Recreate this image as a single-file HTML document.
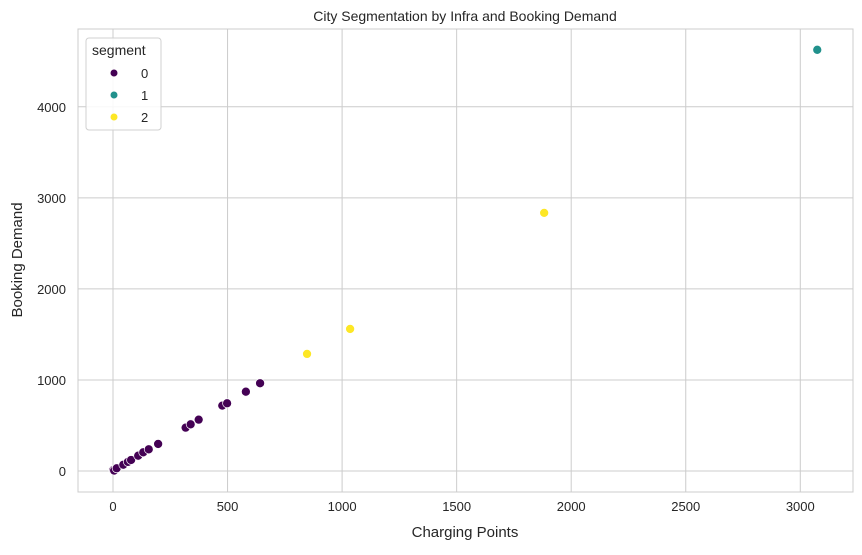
<!DOCTYPE html>
<html><head><meta charset="utf-8"><style>
body{margin:0;background:#fff;font-family:"Liberation Sans",sans-serif;}
svg text{font-family:"Liberation Sans",sans-serif;fill:#262626;}
</style></head><body>
<svg id="chart" width="862" height="550">
<rect x="0" y="0" width="862" height="550" fill="#fff"/>
<text x="465" y="21" text-anchor="middle" font-size="14">City Segmentation by Infra and Booking Demand</text>
<g id="grid"></g>
<rect x="78" y="29" width="775" height="463" fill="none" stroke="#cccccc" stroke-width="1"/>
<g id="ticks"></g>
<g id="points"></g>
<text x="465" y="537" text-anchor="middle" font-size="15">Charging Points</text>
<text transform="translate(22,260) rotate(-90)" text-anchor="middle" font-size="15">Booking Demand</text>
<g>
<rect x="86" y="38" width="75" height="92" rx="3" fill="#fff" fill-opacity="0.85" stroke="#d0d0d0"/>
<text x="92" y="55" font-size="14">segment</text>
<g><circle cx="114" cy="73" r="3.5" fill="#440154"/><text x="141" y="78" font-size="13">0</text></g>
<g><circle cx="114" cy="95" r="3.5" fill="#21918c"/><text x="141" y="100" font-size="13">1</text></g>
<g><circle cx="114" cy="117" r="3.5" fill="#fde725"/><text x="141" y="122" font-size="13">2</text></g>
</g>
</svg>
<script>
const xVals=[1,5,16,45,65,79,110,132,156,197,317,339,374,477,498,580,642,847,1035,1882,3074];
const yVals=[11,5,30,69,100,121,168,205,238,297,476,513,564,718,744,871,964,1286,1560,2835,4626];
const segments=[0,0,0,0,0,0,0,0,0,0,0,0,0,0,0,0,0,2,2,2,1];
const xTicks=[0,500,1000,1500,2000,2500,3000];
const yTicks=[0,1000,2000,3000,4000];
const colors=["#440154","#21918c","#fde725"];
const NS="http://www.w3.org/2000/svg";
const xs=v=>113+v*0.2291;
const ys=v=>471-v*0.09105;
const grid=document.getElementById('grid'),ticks=document.getElementById('ticks'),pts=document.getElementById('points');
function mk(tag,attrs,parent){const e=document.createElementNS(NS,tag);for(const k in attrs)e.setAttribute(k,attrs[k]);parent.appendChild(e);return e;}
xTicks.forEach(t=>{
  const l=mk('line',{x1:xs(t),x2:xs(t),y1:29,y2:492,stroke:'#cccccc','stroke-width':1},grid);
  
  
  const tx=mk('text',{x:xs(t),y:511,'text-anchor':'middle','font-size':13},ticks);
  tx.textContent=t;
  
  
});
yTicks.forEach(t=>{
  const l=mk('line',{x1:78,x2:853,y1:ys(t),y2:ys(t),stroke:'#cccccc','stroke-width':1},grid);
  
  
  const tx=mk('text',{x:66,y:ys(t)+5,'text-anchor':'end','font-size':13},ticks);
  tx.textContent=t;
  
  
});
xVals.forEach((v,i)=>{
  const c=mk('circle',{cx:xs(v),cy:ys(yVals[i]),r:4.5,fill:colors[segments[i]],stroke:'#fff','stroke-width':0.7},pts);
  
  
});
</script>
</body></html>
